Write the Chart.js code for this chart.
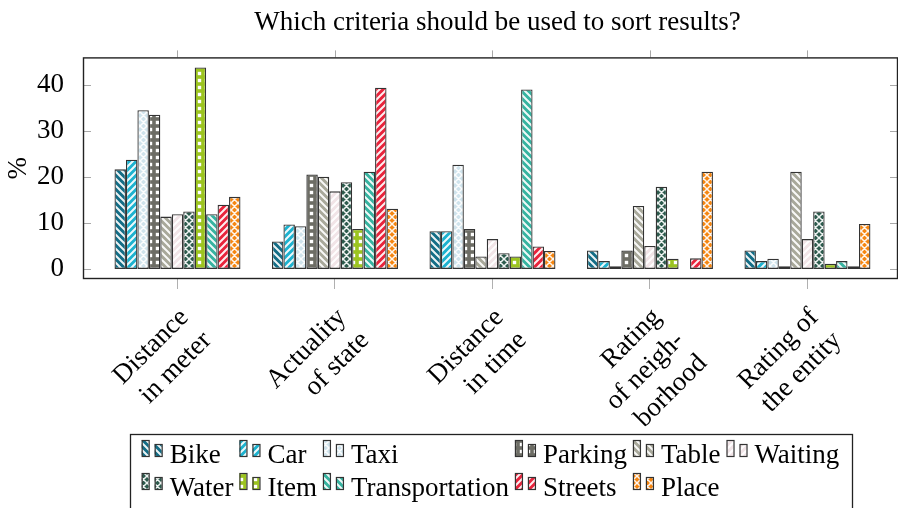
<!DOCTYPE html>
<html><head><meta charset="utf-8">
<script src="https://cdn.jsdelivr.net/npm/chart.js@4.4.0/dist/chart.umd.min.js"></script>
<style>html,body{margin:0;padding:0;background:#fff;}</style>
</head><body>
<canvas id="c" width="898" height="508"></canvas>
<script>
const titleText = "Which criteria should be used to sort results?";
const categories = [["Distance","in meter"],["Actuality","of state"],["Distance","in time"],["Rating","of neigh-","borhood"],["Rating of","the entity"]];
const seriesNames = ["Bike","Car","Taxi","Parking","Table","Waiting","Water","Item","Transportation","Streets","Place"];
const bike = [21.7, 6.0, 8.2, 4.0, 4.0];
const car = [23.8, 9.7, 8.2, 1.7, 1.7];
const taxi = [34.6, 9.3, 22.7, 0.6, 2.2];
const parking = [33.6, 20.6, 8.7, 4.0, 0.6];
const table = [11.4, 20.1, 2.7, 13.7, 21.2];
const waiting = [11.9, 16.9, 6.5, 5.0, 6.5];
const water = [12.5, 18.9, 3.4, 17.9, 12.5];
const item = [43.9, 8.7, 2.7, 2.2, 1.1];
const transportation = [11.9, 21.2, 39.1, 0, 1.7];
const streets = [14.0, 39.5, 4.9, 2.3, 0.6];
const place = [15.7, 13.1, 3.9, 21.2, 9.8];
const yTicks = [0, 10, 20, 30, 40];

const seriesValues = [bike, car, taxi, parking, table, waiting, water, item, transportation, streets, place];
const seriesColors = ["#136d86","#1cb2cf","#cfe3ec","#6d6d65","#a8a89a","#f1e4e7","#2d5b4d","#9cc41f","#36b3a0","#e8233b","#f5850f"];
const seriesPatterns = ["nw","ne","cross","dots","nw","ne","cross","dots","nw","ne","cross"];

const SERIF = '"Liberation Serif", "Times New Roman", serif';
const FS = 27;

function makePattern(bg, kind){
  const p = 7;
  const c = document.createElement('canvas'); c.width = p; c.height = p;
  const g = c.getContext('2d');
  g.fillStyle = bg; g.fillRect(0,0,p,p);
  g.strokeStyle = 'rgba(255,255,255,0.92)'; g.fillStyle = '#fff';
  g.lineWidth = kind === 'cross' ? 1.5 : 2.0;
  g.beginPath();
  if (kind === 'nw' || kind === 'cross') {
    for (const k of [-p,0,p]) { g.moveTo(k-1,-1); g.lineTo(k+p+1,p+1); }
  }
  if (kind === 'ne' || kind === 'cross') {
    for (const k of [-p,0,p]) { g.moveTo(k-1,p+1); g.lineTo(k+p+1,-1); }
  }
  g.stroke();
  if (kind === 'dots') { g.fillRect(p/2-1.7, p/2-1.7, 3.4, 3.4); }
  return g.createPattern(c, 'repeat');
}

const datasets = seriesNames.map((name, s) => ({
  label: name,
  data: seriesValues[s].map((v, i) => ({x: i, y: v})),
  backgroundColor: makePattern(seriesColors[s], seriesPatterns[s]),
  borderColor: '#333',
  borderWidth: 1.3,
  borderSkipped: false,
  barPercentage: 1.0,
  categoryPercentage: 0.8
}));

const framePlugin = {
  id: 'frame',
  afterLayout(chart) {
    const tb = chart.titleBlock;
    if (tb) { tb.left += 7; tb.right += 7; }
  },
  afterDraw(chart) {
    const {ctx, chartArea: a, scales: {x, y}} = chart;
    ctx.save();
    ctx.strokeStyle = '#a8a8a8'; ctx.lineWidth = 1;
    const line = (x1,y1,x2,y2) => { ctx.beginPath(); ctx.moveTo(x1,y1); ctx.lineTo(x2,y2); ctx.stroke(); };
    y.ticks.forEach(t => {
      const py = Math.round(y.getPixelForValue(t.value)) + 0.5;
      line(a.left, py, a.left + 8, py);
      line(a.right - 8, py, a.right, py);
    });
    x.ticks.forEach(t => {
      const px = Math.round(x.getPixelForValue(t.value)) + 0.5;
      line(px, a.top - 7, px, a.top);
    });
    ctx.strokeStyle = '#222'; ctx.lineWidth = 1.4;
    ctx.strokeRect(a.left + 0.5, a.top + 0.5, a.right - a.left - 1, a.bottom - a.top - 1);
    ctx.restore();
  }
};

const legendPlugin = {
  id: 'texLegend',
  afterDraw(chart) {
    const ctx = chart.ctx;
    const ds = chart.data.datasets;
    const cols = 6;
    ctx.save();
    ctx.font = FS + 'px ' + SERIF;
    const iconW = 28, sep = 6, pad = 12;
    const colW = [];
    for (let c = 0; c < cols; c++) {
      let m = 0;
      for (let r = 0; r * cols + c < ds.length; r++) m = Math.max(m, ctx.measureText(ds[r*cols+c].label).width);
      colW.push(iconW + m + sep);
    }
    const total = colW.reduce((s,v)=>s+v,0) - sep;
    const a = chart.chartArea;
    const cx = (a.left + a.right) / 2;
    const boxLeft = cx - total/2 - pad;
    const boxTop = chart.height - 74;
    ctx.strokeStyle = '#222'; ctx.lineWidth = 1.3;
    ctx.strokeRect(Math.round(boxLeft)+0.5, boxTop+0.5, Math.round(total + 2*pad), 90);
    const baselines = [boxTop + 29, boxTop + 62];
    ds.forEach((d, i) => {
      const r = Math.floor(i / cols), c = i % cols;
      let x0 = boxLeft + pad;
      for (let k = 0; k < c; k++) x0 += colW[k];
      const bl = baselines[r];
      ctx.fillStyle = d.backgroundColor; ctx.strokeStyle = '#333'; ctx.lineWidth = 1.2;
      ctx.fillRect(x0, bl - 23, 7, 16); ctx.strokeRect(x0 + 0.5, bl - 22.5, 7, 16);
      ctx.fillRect(x0 + 13, bl - 19, 7, 12); ctx.strokeRect(x0 + 13.5, bl - 18.5, 7, 12);
      ctx.fillStyle = '#000'; ctx.textBaseline = 'alphabetic'; ctx.textAlign = 'left';
      ctx.fillText(d.label, x0 + iconW, bl);
    });
    ctx.restore();
  }
};

new Chart(document.getElementById('c'), {
  type: 'bar',
  data: { datasets },
  plugins: [framePlugin, legendPlugin],
  options: {
    responsive: false,
    animation: false,
    layout: { padding: { left: 0, right: 0, top: 0, bottom: 78 } },
    plugins: {
      legend: { display: false },
      tooltip: { enabled: false },
      title: { display: true, text: titleText, fullSize: false, color: '#000',
               font: { family: SERIF, size: FS, weight: 'normal' }, padding: { top: 7, bottom: 18 } }
    },
    scales: {
      x: {
        type: 'linear', min: -0.6, max: 4.575, offset: false,
        grid: { offset: false, drawOnChartArea: false, drawTicks: true, tickLength: 10, color: '#b0b0b0' },
        border: { display: false },
        ticks: { autoSkip: false, minRotation: 45, maxRotation: 45, padding: 13, labelOffset: 7, color: '#000',
                 font: { family: SERIF, size: FS, lineHeight: 1.2 },
                 callback: (v) => categories[v] !== undefined ? categories[v] : '' },
        afterBuildTicks: (s) => { s.ticks = categories.map((_, i) => ({ value: i })); },
        afterFit: (s) => { s.height = 151; }
      },
      y: {
        min: -2.2, max: 46.1,
        grid: { display: false },
        border: { display: false },
        ticks: { padding: 11, color: '#000', font: { family: SERIF, size: FS } },
        afterBuildTicks: (s) => { s.ticks = yTicks.map(v => ({ value: v })); },
        afterFit: (s) => { s.width = 83; },
        title: { display: true, text: '%', color: '#000', font: { family: SERIF, size: FS }, padding: { top: 3, bottom: 0 } }
      }
    }
  }
});
</script>
</body></html>
